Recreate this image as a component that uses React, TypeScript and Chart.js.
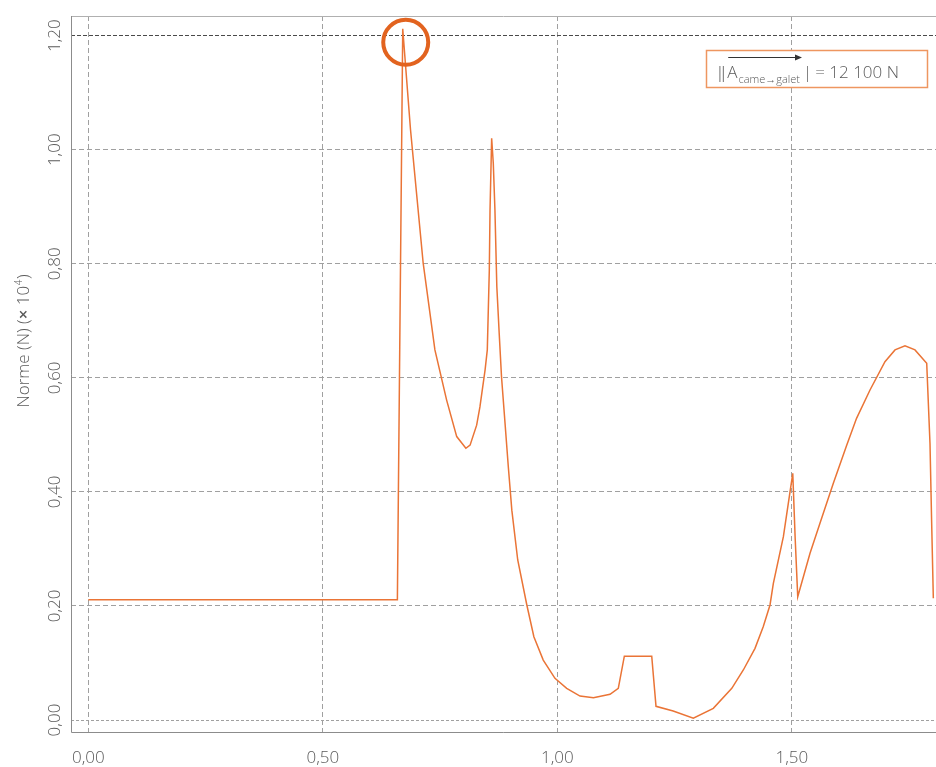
import React, { useEffect, useRef } from "react";
import { Chart, registerables } from "chart.js";

Chart.register(...registerables);

// Time (s) values and norm (N ×10^4) values
const timeValues: number[] = [
  0.0, 0.659, 0.6704, 0.687, 0.714, 0.739, 0.764, 0.7855, 0.805, 0.814, 0.828, 0.835, 0.846,
  0.8507, 0.855, 0.8565, 0.86, 0.8635, 0.867, 0.871, 0.876, 0.881, 0.888, 0.8955, 0.903,
  0.9156, 0.935, 0.95, 0.97, 0.995, 1.02, 1.0484, 1.077, 1.1124, 1.13, 1.1429, 1.2013,
  1.2104, 1.247, 1.29, 1.3326, 1.372, 1.3966, 1.4215, 1.439, 1.4535, 1.4606, 1.482, 1.502,
  1.507, 1.5126, 1.5388, 1.56, 1.5885, 1.617, 1.638, 1.6667, 1.6986, 1.72, 1.7413, 1.7626,
  1.7876, 1.7946, 1.798, 1.8017,
];
const normValues: number[] = [
  0.211, 0.211, 1.212, 1.035, 0.801, 0.649, 0.561, 0.497, 0.4765, 0.482, 0.517, 0.549, 0.614,
  0.649, 0.789, 0.894, 1.02, 0.976, 0.894, 0.76, 0.679, 0.602, 0.526, 0.444, 0.368,
  0.2806, 0.2017, 0.146, 0.105, 0.073, 0.0556, 0.042, 0.039, 0.045, 0.0556, 0.112, 0.112,
  0.024, 0.0158, 0.003, 0.0205, 0.0556, 0.0877, 0.1257, 0.1636, 0.2017, 0.2397, 0.3214, 0.4326,
  0.3214, 0.2162, 0.2923, 0.345, 0.415, 0.482, 0.529, 0.5787, 0.6283, 0.649, 0.656, 0.649,
  0.6255, 0.485, 0.351, 0.2134,
];

// Highlight circle around the maximum
const maxMarkerX: number[] = [0.6768];
const maxMarkerY: number[] = [1.1884];

const xTickValues: number[] = [0, 0.5, 1.0, 1.5];
const xTickLabels: string[] = ["0,00", "0,50", "1,00", "1,50"];
const yTickValues: number[] = [0, 0.2, 0.4, 0.6, 0.8, 1.0, 1.2];
const yTickLabels: string[] = ["0,00", "0,20", "0,40", "0,60", "0,80", "1,00", "1,20"];

const yTitleParts = { main: "Norme (N) (", times: "×", ten: " 10", exp: "4", close: ")" };
const legendParts = { bars: "‖", vec: "A", sub: "came→galet", bar: "|", rest: "= 12 100 N" };

const FONT = "'Open Sans', 'Noto Sans', sans-serif";
const TEXT = "#5a5a5a";
const ORANGE = "#ea7436";
const CIRCLE = "#e2631f";

const overlayPlugin = {
  id: "overlay",
  beforeDatasetsDraw(chart: any) {
    const { ctx, chartArea } = chart;
    ctx.save();
    ctx.lineWidth = 1;
    ctx.strokeStyle = "#b0b0b0";
    ctx.beginPath();
    ctx.moveTo(chartArea.left, chartArea.top + 0.5);
    ctx.lineTo(chartArea.right, chartArea.top + 0.5);
    ctx.stroke();
    ctx.strokeStyle = "#8c8c8c";
    ctx.beginPath();
    ctx.moveTo(chartArea.left + 0.5, chartArea.top);
    ctx.lineTo(chartArea.left + 0.5, chartArea.bottom + 0.5);
    ctx.lineTo(chartArea.right, chartArea.bottom + 0.5);
    ctx.stroke();
    ctx.restore();
  },
  afterDraw(chart: any) {
    const { ctx } = chart;
    const xs = chart.scales.x;
    const ys = chart.scales.y;
    ctx.save();
    ctx.fillStyle = TEXT;
    ctx.font = `300 17px ${FONT}`;
    // x tick labels
    ctx.textAlign = "center";
    ctx.textBaseline = "alphabetic";
    xTickValues.forEach((v, i) => {
      ctx.fillText(xTickLabels[i], xs.getPixelForValue(v), 762.5);
    });
    // y tick labels (rotated)
    yTickValues.forEach((v, i) => {
      ctx.save();
      ctx.translate(59.5, ys.getPixelForValue(v));
      ctx.rotate(-Math.PI / 2);
      ctx.textAlign = "center";
      ctx.fillText(yTickLabels[i], 0, 0);
      ctx.restore();
    });
    // y title
    ctx.save();
    ctx.translate(29, 341);
    ctx.rotate(-Math.PI / 2);
    ctx.textAlign = "left";
    const fMain = `300 17px ${FONT}`;
    const fTimes = `600 17px ${FONT}`;
    const fExp = `300 10px ${FONT}`;
    ctx.font = fMain;
    const w1 = ctx.measureText(yTitleParts.main).width;
    ctx.font = fTimes;
    const w2 = ctx.measureText(yTitleParts.times).width;
    ctx.font = fMain;
    const w3 = ctx.measureText(yTitleParts.ten).width;
    ctx.font = fExp;
    const w4 = ctx.measureText(yTitleParts.exp).width + 1;
    ctx.font = fMain;
    const w5 = ctx.measureText(yTitleParts.close).width;
    let px = -(w1 + w2 + w3 + w4 + w5) / 2;
    ctx.font = fMain;
    ctx.fillText(yTitleParts.main, px, 0);
    px += w1;
    ctx.font = fTimes;
    ctx.fillText(yTitleParts.times, px, 0);
    px += w2;
    ctx.font = fMain;
    ctx.fillText(yTitleParts.ten, px, 0);
    px += w3;
    ctx.font = fExp;
    ctx.fillText(yTitleParts.exp, px + 0.5, -7);
    px += w4;
    ctx.font = fMain;
    ctx.fillText(yTitleParts.close, px, 0);
    ctx.restore();

    // legend box
    const bx = 706, by = 50, bw = 222, bh = 38;
    ctx.fillStyle = "#ffffff";
    ctx.fillRect(bx, by, bw, bh);
    ctx.strokeStyle = "#ee9660";
    ctx.lineWidth = 1.5;
    ctx.strokeRect(bx + 0.5, by + 0.5, bw - 1, bh - 1);
    ctx.fillStyle = TEXT;
    ctx.textAlign = "left";
    ctx.font = `300 17px ${FONT}`;
    let lx = 717;
    ctx.fillText(legendParts.bars, lx, 77.5);
    lx += ctx.measureText(legendParts.bars).width + 1;
    const vecStart = lx + 1;
    ctx.fillText(legendParts.vec, lx, 77.5);
    lx += ctx.measureText(legendParts.vec).width + 1;
    ctx.font = `300 11px ${FONT}`;
    ctx.fillText(legendParts.sub, lx, 82.5);
    lx += ctx.measureText(legendParts.sub).width;
    const vecEnd = lx + 2;
    // vector arrow
    ctx.strokeStyle = "#333";
    ctx.lineWidth = 1;
    ctx.beginPath();
    ctx.moveTo(vecStart, 57.5);
    ctx.lineTo(vecEnd - 5, 57.5);
    ctx.stroke();
    ctx.fillStyle = "#333";
    ctx.beginPath();
    ctx.moveTo(vecEnd, 57.5);
    ctx.lineTo(vecEnd - 7, 54.5);
    ctx.lineTo(vecEnd - 7, 60.5);
    ctx.closePath();
    ctx.fill();
    ctx.fillStyle = TEXT;
    ctx.font = `300 17px ${FONT}`;
    lx += 3;
    ctx.fillText(legendParts.bar, lx, 77.5);
    lx += ctx.measureText(legendParts.bar).width + 3;
    ctx.fillText(legendParts.rest, lx, 77.5);
    ctx.restore();
  },
};

export default function App() {
  const canvasRef = useRef<HTMLCanvasElement | null>(null);

  useEffect(() => {
    if (!canvasRef.current) return;
    const linePoints = timeValues.map((t, i) => ({ x: t, y: normValues[i] }));
    const markerPoints = maxMarkerX.map((t, i) => ({ x: t, y: maxMarkerY[i] }));

    const gridDash = (ctx: any) => {
      const v = ctx.tick ? ctx.tick.value : null;
      if (v !== null && Math.abs(v - 1.2) < 1e-6) return [4, 2];
      if (v !== null && Math.abs(v) < 1e-6) return [3, 2];
      return [5, 3];
    };

    const chart = new Chart(canvasRef.current, {
      type: "line",
      data: {
        datasets: [
          {
            data: markerPoints,
            showLine: false,
            pointRadius: 22.5,
            pointHoverRadius: 22.5,
            pointBorderWidth: 4,
            pointBorderColor: CIRCLE,
            pointBackgroundColor: "rgba(0,0,0,0)",
            borderColor: CIRCLE,
            clip: false,
          },
          {
            data: linePoints,
            borderColor: ORANGE,
            borderWidth: 1.5,
            pointRadius: 0,
            tension: 0,
            fill: false,
          },
        ],
      },
      options: {
        responsive: false,
        animation: false,
        events: [],
        layout: { autoPadding: false, padding: { top: 16, left: 0, right: 0, bottom: 0 } },
        plugins: { legend: { display: false }, tooltip: { enabled: false } },
        scales: {
          x: {
            type: "linear",
            min: -0.0369,
            max: 1.8074,
            afterFit: (s: any) => {
              s.height = 35;
            },
            ticks: { display: false, stepSize: 0.5, includeBounds: false },
            grid: { color: "#a0a0a0", lineWidth: 1, drawTicks: false },
            border: { display: false, dash: [5, 3] },
          },
          y: {
            type: "linear",
            min: -0.02104,
            max: 1.2345,
            afterFit: (s: any) => {
              s.width = 71;
            },
            ticks: { display: false, stepSize: 0.2, includeBounds: false },
            grid: {
              color: (c: any) =>
                c.tick && Math.abs(c.tick.value - 1.2) < 1e-6 ? "#4a4a4a" : "#a0a0a0",
              lineWidth: 1,
              drawTicks: false,
            },
            border: { display: false, dash: gridDash },
          },
        },
      },
      plugins: [overlayPlugin],
    } as any);
    return () => chart.destroy();
  }, []);

  return (
    <div style={{ position: "fixed", left: 0, top: 0, width: 936, height: 767, background: "#fff" }}>
      <canvas ref={canvasRef} width={936} height={767} style={{ display: "block" }} />
    </div>
  );
}
